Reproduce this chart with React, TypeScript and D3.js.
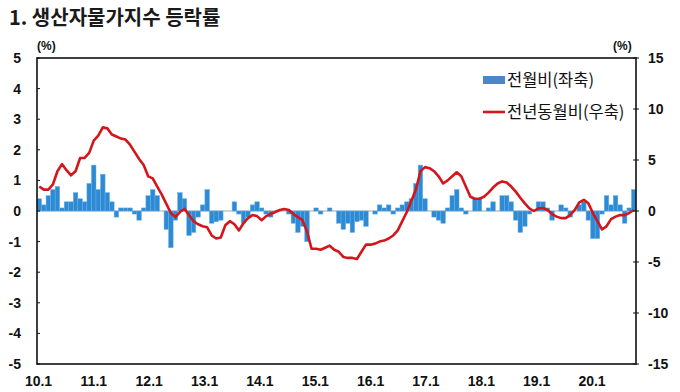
import React from "react";
import * as d3 from "d3";

const yearLabels = ["10.1", "11.1", "12.1", "13.1", "14.1", "15.1", "16.1", "17.1", "18.1", "19.1", "20.1"];
const leftTicks = [5, 4, 3, 2, 1, 0, -1, -2, -3, -4, -5];
const rightTicks = [15, 10, 5, 0, -5, -10, -15];

// 전월비 (month-on-month, left axis), 2010.1 ~ 2020.12
const momValues = [
  0.4, 0.2, 0.5, 0.7, 0.8, 0.1, 0.3, 0.3, 0.6, 0.4, 0.3, 0.9,
  1.5, 0.7, 1.2, 0.6, 0.3, -0.2, 0.1, 0.1, 0.1, -0.1, -0.3, 0.1,
  0.5, 0.7, 0.5, 0.0, -0.6, -1.2, -0.3, 0.6, 0.4, -0.8, -0.7, -0.2,
  0.2, 0.7, -0.4, -0.35, -0.3, 0.0, 0.0, 0.3, -0.1, -0.4, -0.2, 0.2,
  0.3, 0.1, -0.1, -0.2, 0.0, 0.0, 0.0, -0.1, -0.4, -0.7, -0.5, -1.0,
  0.0, 0.1, -0.1, 0.0, 0.1, 0.0, -0.4, -0.6, -0.4, -0.7, -0.35, -0.3,
  -0.5, 0.0, -0.1, 0.2, 0.1, 0.2, -0.1, 0.1, 0.2, 0.3, 0.4, 0.9,
  1.5, 0.4, 0.0, -0.2, -0.3, -0.4, 0.1, 0.5, 0.7, 0.1, -0.1, 0.0,
  0.4, 0.4, 0.0, 0.1, 0.3, 0.0, 0.5, 0.5, 0.3, -0.3, -0.7, -0.5,
  -0.1, 0.0, 0.3, 0.3, 0.1, -0.3, 0.0, 0.2, 0.1, -0.2, 0.0, 0.2,
  0.3, -0.3, -0.9, -0.9, -0.1, 0.5, 0.2, 0.5, 0.2, -0.4, 0.1, 0.7,
];

// 전년동월비 (year-on-year, right axis)
const yoyValues = [
  2.4, 2.1, 2.1, 2.6, 3.9, 4.6, 4.0, 3.5, 3.9, 5.2, 5.2, 5.7,
  6.9, 7.4, 8.2, 8.1, 7.5, 7.3, 7.1, 7.0, 6.5, 5.8, 5.1, 4.5,
  3.4, 3.2, 2.4, 1.6, 0.7, -0.2, -0.6, -0.1, 0.2, -0.4, -1.0, -1.3,
  -1.5, -1.6, -2.4, -2.7, -2.6, -1.4, -1.0, -1.3, -1.9, -1.2, -0.7, -0.4,
  -0.5, -0.9, -0.5, -0.3, -0.1, 0.1, 0.2, 0.1, -0.3, -0.6, -0.9, -2.0,
  -3.7, -3.7, -3.8, -3.6, -3.4, -3.8, -4.0, -4.5, -4.6, -4.6, -4.7, -4.0,
  -3.3, -3.3, -3.2, -3.0, -2.9, -2.7, -2.4, -1.9, -1.0, -0.1, 1.0, 2.1,
  3.9, 4.3, 4.2, 3.9, 3.4, 2.7, 3.0, 3.4, 3.8, 3.4, 2.4, 1.4,
  1.2, 1.2, 1.4, 1.8, 2.3, 2.7, 2.9, 2.8, 2.4, 1.9, 1.3, 0.75,
  0.26, 0.0, 0.26, 0.3, 0.1, -0.3, -0.55, -0.7, -0.7, -0.4, 0.1, 0.85,
  1.1, 0.75, -0.2, -1.0, -1.8, -1.5, -0.8, -0.55, -0.4, -0.4, -0.2, 0.1,
];

const W = 680;
const H = 392;
const L = 37, R = 636, T = 58, B = 364;

export default function App() {
  const idx = momValues.map((_, i) => i);
  const x = d3.scaleBand<number>().domain(idx).range([L, R]).padding(0);
  const yL = d3.scaleLinear().domain([-5, 5]).range([B, T]);
  const yR = d3.scaleLinear().domain([-15, 15]).range([B, T]);
  const xl = d3.scalePoint<string>().domain(yearLabels).range([38.5, 592]);
  const bw = x.bandwidth();
  const line = d3
    .line<number>()
    .x((_, i) => (x(i) as number) + bw / 2)
    .y((d) => yR(d));

  const tickFont = "'Liberation Sans', Arial, sans-serif";
  const kFont = "'Noto Sans CJK KR', sans-serif";

  return (
    <svg width={W} height={H} style={{ position: "absolute", left: 0, top: 0, background: "#fff" }}>
      <text x={9} y={25} fontFamily={kFont} fontWeight={700} fontSize={20} fill="#1a1a1a">
        1. 생산자물가지수 등락률
      </text>
      <text x={37} y={50} fontFamily={tickFont} fontWeight={700} fontSize={12} fill="#111">(%)</text>
      <text x={613} y={50} fontFamily={tickFont} fontWeight={700} fontSize={12} fill="#111">(%)</text>

      {/* zero line */}
      <line x1={L} x2={R} y1={yL(0)} y2={yL(0)} stroke="#a6a6a6" strokeWidth={1} />

      {/* bars */}
      {momValues.map((v, i) => (
        <rect
          key={i}
          x={x(i) as number}
          y={Math.min(yL(v), yL(0))}
          width={bw}
          height={Math.abs(yL(v) - yL(0))}
          fill="#2f8ad4"
          stroke="#62b0e8"
          strokeWidth={0.5}
        />
      ))}

      {/* line */}
      <path d={line(yoyValues) || ""} fill="none" stroke="#d4161c" strokeWidth={2.6} strokeLinejoin="round" />

      {/* frame */}
      <rect x={L} y={T} width={R - L} height={B - T} fill="none" stroke="#111" strokeWidth={1.6} />

      {/* left ticks */}
      {leftTicks.map((t) => (
        <g key={"l" + t}>
          <line x1={L} x2={L + 3} y1={yL(t)} y2={yL(t)} stroke="#111" strokeWidth={1} />
          <text x={21} y={yL(t)} dy="0.36em" textAnchor="end" fontFamily={tickFont} fontWeight={700} fontSize={14} fill="#111">
            {t < 0 ? "-" + Math.abs(t) : t}
          </text>
        </g>
      ))}

      {/* right ticks */}
      {rightTicks.map((t) => (
        <g key={"r" + t}>
          <line x1={R - 3} x2={R + 3} y1={yR(t)} y2={yR(t)} stroke="#111" strokeWidth={1} />
          <text x={648} y={yR(t)} dy="0.36em" textAnchor="start" fontFamily={tickFont} fontWeight={700} fontSize={14} fill="#111">
            {t < 0 ? "-" + Math.abs(t) : t}
          </text>
        </g>
      ))}

      {/* x labels */}
      {yearLabels.map((lab) => (
        <text key={lab} x={xl(lab)} y={386} textAnchor="middle" fontFamily={tickFont} fontWeight={700} fontSize={14} fill="#111">
          {lab}
        </text>
      ))}

      {/* legend */}
      <rect x={483} y={76} width={22} height={8} fill="#4a86c8" />
      <text x={507} y={80} dy="0.36em" fontFamily={kFont} fontSize={16.5} fill="#111">전월비(좌축)</text>
      <line x1={483} x2={505} y1={112} y2={112} stroke="#d4161c" strokeWidth={2.6} />
      <text x={507} y={112} dy="0.36em" fontFamily={kFont} fontSize={16.5} fill="#111">전년동월비(우축)</text>
    </svg>
  );
}
